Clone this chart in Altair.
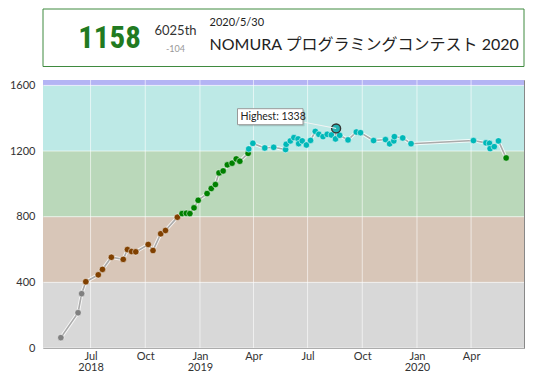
import altair as alt
import pandas as pd

# ---------------- data ----------------
dates = [
    "2018-05-12", "2018-06-10", "2018-06-16", "2018-06-23", "2018-07-14", "2018-07-21",
    "2018-08-05", "2018-08-25", "2018-09-01", "2018-09-08", "2018-09-15", "2018-10-06",
    "2018-10-14", "2018-10-27", "2018-11-04", "2018-11-24", "2018-12-02", "2018-12-09",
    "2018-12-15", "2018-12-22", "2018-12-29", "2019-01-13", "2019-01-20", "2019-01-27",
    "2019-02-02", "2019-02-09", "2019-02-16", "2019-02-24", "2019-03-03", "2019-03-09",
    "2019-03-23", "2019-03-24", "2019-03-31", "2019-04-20", "2019-05-05", "2019-05-25",
    "2019-05-26", "2019-06-02", "2019-06-08", "2019-06-15", "2019-06-16", "2019-06-22",
    "2019-06-29", "2019-07-06", "2019-07-14", "2019-07-20", "2019-07-27", "2019-08-03",
    "2019-08-10", "2019-08-17", "2019-08-18", "2019-08-24", "2019-09-07", "2019-09-21",
    "2019-09-28", "2019-10-20", "2019-11-09", "2019-11-16", "2019-11-23", "2019-11-24",
    "2019-12-08", "2019-12-22", "2020-04-05", "2020-04-26", "2020-05-02", "2020-05-03",
    "2020-05-10", "2020-05-17", "2020-05-30",
]
ratings = [
    63, 215, 331, 404, 446, 479,
    553, 540, 600, 588, 586, 631,
    594, 696, 716, 797, 819, 821,
    819, 854, 900, 941, 972, 996,
    1067, 1079, 1116, 1126, 1152, 1138,
    1186, 1213, 1247, 1219, 1223, 1209,
    1241, 1262, 1282, 1274, 1245, 1262,
    1237, 1265, 1320, 1302, 1288, 1302,
    1298, 1274, 1338, 1296, 1268, 1316,
    1312, 1264, 1270, 1244, 1262, 1288,
    1280, 1245, 1264, 1250, 1247, 1215,
    1227, 1262, 1158,
]

band_names = ["gray", "brown", "green", "cyan", "blue"]
band_lo = [0, 400, 800, 1200, 1600]
band_hi = [400, 800, 1200, 1600, 1633]
band_fill = ["#d8d8d8", "#d8c6b8", "#bad8ba", "#bde9e6", "#b4b4f4"]
point_fill = ["#808080", "#804000", "#008000", "#00b8b8", "#0000ff"]

tick_dates = ["2018-07-01", "2018-10-01", "2019-01-01", "2019-04-01",
              "2019-07-01", "2019-10-01", "2020-01-01", "2020-04-01"]
y_ticks = [0, 400, 800, 1200, 1600]
x_start, x_end = "2018-04-12", "2020-06-29"

current_rating = "1158"
rank_text = "6025th"
diff_text = "-104"
contest_date = "2020/5/30"
contest_name = "NOMURA プログラミングコンテスト 2020"
highest_label = "Highest: 1338"

# ---------------- tables ----------------
def band_of(r):
    for name, lo, hi in zip(band_names, band_lo, band_hi):
        if lo <= r < hi:
            return name
    return band_names[-1]

df = pd.DataFrame({"date": dates, "rating": ratings})
df["pband"] = [band_of(r) for r in ratings]
best = df.loc[[df["rating"].idxmax()]]

bands = pd.DataFrame({"band": band_names, "lo": band_lo, "hi": band_hi})
vgrid = pd.DataFrame({"date": tick_dates})
hgrid = pd.DataFrame({"rating": band_lo})

def ms(s):
    return int(pd.Timestamp(s, tz="UTC").value // 10**6)

W, H = 481, 268
FONT = "Lato"

xscale = alt.Scale(type="utc", domain=[ms(x_start), ms(x_end)])
yscale = alt.Scale(domain=[0, band_hi[-1]], nice=False)

aug2018 = ms("2018-08-01")
xaxis = alt.Axis(
    values=[ms(d) for d in tick_dates], title=None, ticks=False, domain=False, grid=False,
    labelFont=FONT, labelFontSize=11, labelColor="#333", labelPadding=2, labelLineHeight=11,
    labelExpr=("(utcmonth(datum.value) == 0 || datum.value < %d) ? "
               "[utcFormat(datum.value, '%%b'), utcFormat(datum.value, '%%Y')] : "
               "utcFormat(datum.value, '%%b')") % aug2018,
)
yaxis = alt.Axis(values=y_ticks, title=None, ticks=False, domain=False, grid=False, format="d",
                 labelFont=FONT, labelFontSize=11, labelColor="#333", labelPadding=8)

band_layer = alt.Chart(bands).mark_rect().encode(
    y=alt.Y("lo:Q", scale=yscale, axis=yaxis),
    y2="hi:Q",
    color=alt.Color("band:N", scale=alt.Scale(domain=band_names, range=band_fill), legend=None),
)

vgrid_layer = alt.Chart(vgrid).mark_rule(color="white", strokeWidth=1, opacity=0.6).encode(
    x=alt.X("date:T", scale=xscale, axis=xaxis),
)
hgrid_layer = alt.Chart(hgrid).mark_rule(color="white", strokeWidth=1, opacity=0.6).encode(
    y=alt.Y("rating:Q", scale=yscale),
)

base = alt.Chart(df).encode(
    x=alt.X("date:T", scale=xscale),
    y=alt.Y("rating:Q", scale=yscale),
)
casing = base.mark_line(color="white", strokeWidth=3.5, opacity=0.8)
line = base.mark_line(color="#aaaaaa", strokeWidth=1.6)
points = base.mark_circle(size=42, opacity=1, stroke="white", strokeWidth=0.7, strokeOpacity=0.7).encode(
    fill=alt.Fill("pband:N", scale=alt.Scale(domain=band_names, range=point_fill), legend=None),
)
best_point = alt.Chart(best).mark_circle(
    size=80, color="#20b2b2", opacity=1, stroke="#333333", strokeWidth=1.4, strokeOpacity=1
).encode(x=alt.X("date:T", scale=xscale), y=alt.Y("rating:Q", scale=yscale))

# highest tooltip
tip_x0, tip_x1, tip_y0, tip_y1 = 194.5, 260, 28.7, 44.7
tip_line = alt.Chart(best).mark_rule(color="#f4f4f4", strokeWidth=1).encode(
    x=alt.X("date:T", scale=xscale), y=alt.Y("rating:Q", scale=yscale),
    x2=alt.value(tip_x1), y2=alt.value(42),
)
one = pd.DataFrame({"k": [0]})
tip_shadow = alt.Chart(one).mark_rect(fill="#000000", opacity=0.15).encode(
    x=alt.value(tip_x0 + 1.5), x2=alt.value(tip_x1 + 1.5), y=alt.value(tip_y0 + 1.5), y2=alt.value(tip_y1 + 1.5))
tip_box = alt.Chart(one).mark_rect(fill="white", stroke="#999999", strokeWidth=1).encode(
    x=alt.value(tip_x0), x2=alt.value(tip_x1), y=alt.value(tip_y0), y2=alt.value(tip_y1))
tip_text = alt.Chart(one).mark_text(text=highest_label, font=FONT, fontSize=10.5, color="#222",
                                    align="left", baseline="middle").encode(
    x=alt.value(tip_x0 + 3), y=alt.value((tip_y0 + tip_y1) / 2 + 0.5))

# header
head_box = alt.Chart(one).mark_rect(fill="white", stroke="#3f8a3f", strokeWidth=1).encode(
    x=alt.value(0), x2=alt.value(481), y=alt.value(-71), y2=alt.value(-13.5))
head_rating = alt.Chart(one).mark_text(
    text=current_rating, font="Roboto Condensed, Roboto", fontSize=31,
    fontWeight="bold", color="#217a21", align="center", baseline="middle").encode(
    x=alt.value(66.5), y=alt.value(-41))
head_rank = alt.Chart(one).mark_text(text=rank_text, font=FONT, fontSize=13, color="#333",
                                     align="center", baseline="middle").encode(
    x=alt.value(132.5), y=alt.value(-49.5))
head_diff = alt.Chart(one).mark_text(text=diff_text, font=FONT, fontSize=9, color="#999",
                                     align="center", baseline="middle").encode(
    x=alt.value(132.5), y=alt.value(-31.5))
head_date = alt.Chart(one).mark_text(text=contest_date, font=FONT, fontSize=11, color="#222",
                                     align="left", baseline="middle").encode(
    x=alt.value(166.5), y=alt.value(-57.5))
head_name = alt.Chart(one).mark_text(text=contest_name, font="Lato, Noto Sans CJK JP", fontSize=16,
                                     color="#222", align="left", baseline="middle").encode(
    x=alt.value(166.5), y=alt.value(-35))

chart = alt.layer(
    band_layer, hgrid_layer, vgrid_layer, casing, line, points, best_point,
    tip_line, tip_shadow, tip_box, tip_text,
    head_box, head_rating, head_rank, head_diff, head_date, head_name,
).resolve_scale(color="independent", fill="independent").properties(
    width=W, height=H,
    autosize=alt.AutoSizeParams(type="none"),
    padding={"left": 35, "top": 72, "right": 8, "bottom": 24},
).configure_view(stroke="#888888", strokeWidth=1)

chart.save("out.html", embed_options={"renderer": "svg", "actions": False})
